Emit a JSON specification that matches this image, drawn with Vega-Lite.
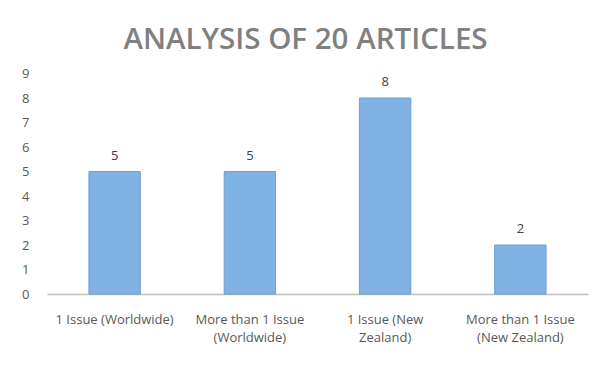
{
  "$schema": "https://vega.github.io/schema/vega-lite/v6.json",
  "width": 541,
  "height": 220.5,
  "autosize": {"type": "none"},
  "padding": {"left": 47, "top": 73.5, "right": 24, "bottom": 77},
  "background": "white",
  "title": {
    "text": "ANALYSIS OF 20 ARTICLES",
    "font": "Open Sans",
    "fontSize": 29.5,
    "fontWeight": 600,
    "color": "#808080",
    "anchor": "middle",
    "dx": -12,
    "offset": 12
  },
  "data": {
    "values": [
      {"category": "1 Issue (Worldwide)", "count": 5},
      {"category": "More than 1 Issue (Worldwide)", "count": 5},
      {"category": "1 Issue (New Zealand)", "count": 8},
      {"category": "More than 1 Issue (New Zealand)", "count": 2}
    ]
  },
  "encoding": {
    "x": {
      "field": "category",
      "type": "nominal",
      "sort": null,
      "scale": {"paddingInner": 0.62, "paddingOuter": 0.31},
      "axis": {
        "title": null,
        "labelAngle": 0,
        "ticks": false,
        "domainColor": "#bfbfbf",
        "domainWidth": 1.5,
        "labelColor": "#595959",
        "labelFont": "Open Sans",
        "labelFontSize": 13,
        "labelPadding": 25,
        "labelLineHeight": 18,
        "labelBaseline": "middle",
        "labelExpr": "datum.value == '1 Issue (New Zealand)' ? ['1 Issue (New', 'Zealand)'] : indexof(datum.value, 'More') == 0 ? ['More than 1 Issue', substring(datum.value, 18)] : datum.value"
      }
    },
    "y": {
      "field": "count",
      "type": "quantitative",
      "scale": {"domain": [0, 9]},
      "axis": {
        "title": null,
        "values": [0, 1, 2, 3, 4, 5, 6, 7, 8, 9],
        "ticks": false,
        "domain": false,
        "grid": false,
        "labelColor": "#595959",
        "labelFont": "Open Sans",
        "labelFontSize": 13,
        "labelPadding": 18
      }
    }
  },
  "layer": [
    {
      "mark": {"type": "bar", "color": "#80b2e3", "stroke": "#6a9fd8", "strokeWidth": 1}
    },
    {
      "mark": {"type": "text", "baseline": "bottom", "dy": -9, "font": "Open Sans", "fontSize": 13, "color": "#404040"},
      "encoding": {"text": {"field": "count", "type": "quantitative"}}
    }
  ],
  "config": {"view": {"stroke": null}}
}
